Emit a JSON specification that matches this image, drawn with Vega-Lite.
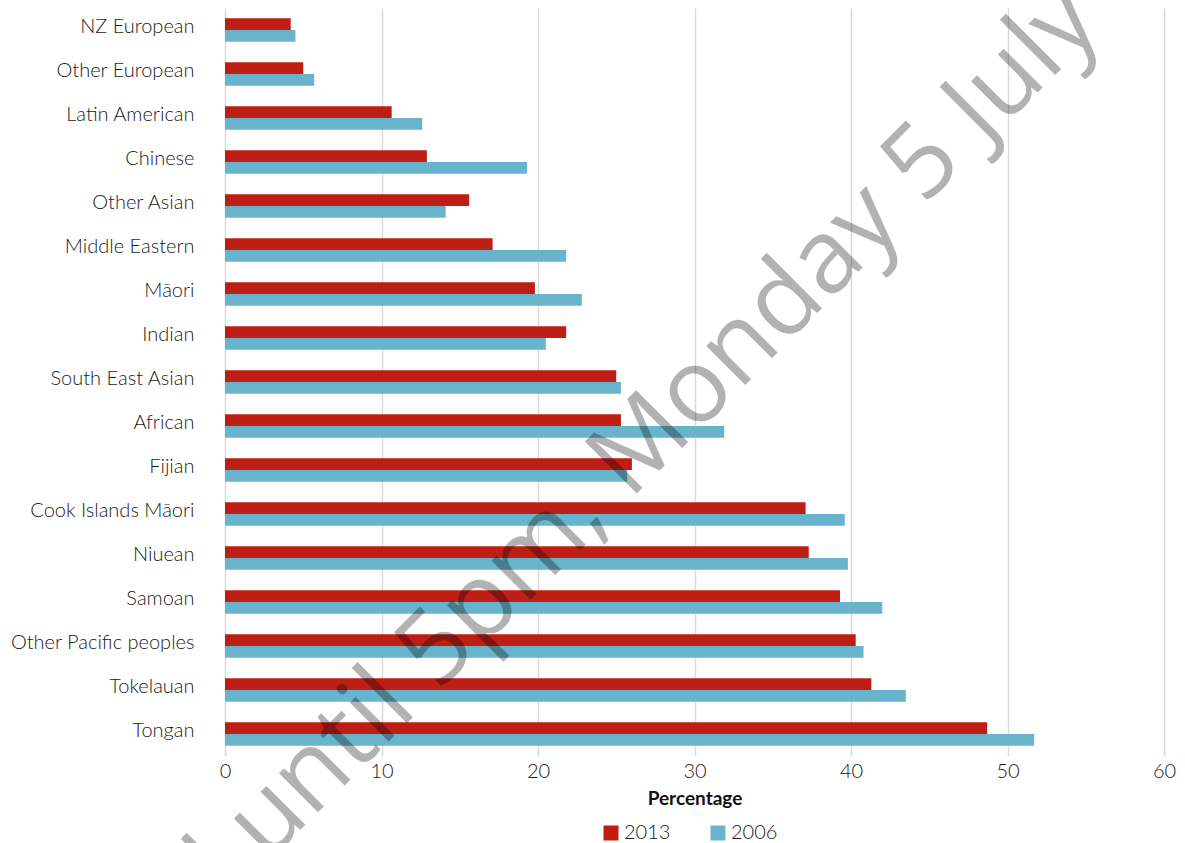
{
  "$schema": "https://vega.github.io/schema/vega-lite/v6.json",
  "width": 939,
  "height": 748,
  "autosize": {"type": "none"},
  "padding": {"left": 225, "top": 8, "right": 21, "bottom": 87},
  "background": "white",
  "config": {
    "view": {"stroke": null},
    "font": "Lato",
    "axis": {"labelFont": "Lato", "labelFontWeight": 300, "labelColor": "#1a1a1a", "labelFontSize": 20, "titleFont": "Lato"},
    "legend": {"labelFont": "Lato", "labelFontWeight": 300, "labelColor": "#1a1a1a", "labelFontSize": 20}
  },
  "data": {
    "values": [
      {"group": "NZ European", "year": "2013", "value": 4.2},
      {"group": "NZ European", "year": "2006", "value": 4.5},
      {"group": "Other European", "year": "2013", "value": 5.0},
      {"group": "Other European", "year": "2006", "value": 5.7},
      {"group": "Latin American", "year": "2013", "value": 10.65},
      {"group": "Latin American", "year": "2006", "value": 12.6},
      {"group": "Chinese", "year": "2013", "value": 12.9},
      {"group": "Chinese", "year": "2006", "value": 19.3},
      {"group": "Other Asian", "year": "2013", "value": 15.6},
      {"group": "Other Asian", "year": "2006", "value": 14.1},
      {"group": "Middle Eastern", "year": "2013", "value": 17.1},
      {"group": "Middle Eastern", "year": "2006", "value": 21.8},
      {"group": "Māori", "year": "2013", "value": 19.8},
      {"group": "Māori", "year": "2006", "value": 22.8},
      {"group": "Indian", "year": "2013", "value": 21.8},
      {"group": "Indian", "year": "2006", "value": 20.5},
      {"group": "South East Asian", "year": "2013", "value": 25.0},
      {"group": "South East Asian", "year": "2006", "value": 25.3},
      {"group": "African", "year": "2013", "value": 25.3},
      {"group": "African", "year": "2006", "value": 31.9},
      {"group": "Fijian", "year": "2013", "value": 26.0},
      {"group": "Fijian", "year": "2006", "value": 25.7},
      {"group": "Cook Islands Māori", "year": "2013", "value": 37.1},
      {"group": "Cook Islands Māori", "year": "2006", "value": 39.6},
      {"group": "Niuean", "year": "2013", "value": 37.3},
      {"group": "Niuean", "year": "2006", "value": 39.8},
      {"group": "Samoan", "year": "2013", "value": 39.3},
      {"group": "Samoan", "year": "2006", "value": 42.0},
      {"group": "Other Pacific peoples", "year": "2013", "value": 40.3},
      {"group": "Other Pacific peoples", "year": "2006", "value": 40.8},
      {"group": "Tokelauan", "year": "2013", "value": 41.3},
      {"group": "Tokelauan", "year": "2006", "value": 43.5},
      {"group": "Tongan", "year": "2013", "value": 48.7},
      {"group": "Tongan", "year": "2006", "value": 51.7}
    ]
  },
  "encoding": {
    "y": {
      "field": "group",
      "type": "nominal",
      "sort": null,
      "scale": {"paddingInner": 0.47, "paddingOuter": 0.235},
      "axis": {"title": null, "ticks": false, "tickSize": 0, "domain": false, "labelPadding": 31, "labelOffset": -3, "labelLimit": 400, "grid": false}
    }
  },
  "layer": [
    {
      "mark": {"type": "bar"},
      "encoding": {
        "x": {
          "field": "value",
          "type": "quantitative",
          "scale": {"domain": [0, 60], "nice": false},
          "axis": {
            "title": "Percentage",
            "titleFontSize": 19,
            "titleFontWeight": 700,
            "titleColor": "#111111",
            "titlePadding": 8,
            "values": [0, 10, 20, 30, 40, 50, 60],
            "labelFlush": false,
            "domain": false,
            "ticks": false,
            "tickSize": 0,
            "labelPadding": 5,
            "grid": true,
            "gridColor": "#d9d9d9",
            "gridWidth": 1.5
          }
        },
        "yOffset": {"field": "year", "type": "nominal", "sort": ["2013", "2006"]},
        "color": {
          "field": "year",
          "type": "nominal",
          "sort": ["2013", "2006"],
          "scale": {"domain": ["2013", "2006"], "range": ["#be1e14", "#67b4cc"]},
          "legend": {
            "title": null,
            "orient": "none",
            "direction": "horizontal",
            "legendX": 376,
            "legendY": 815,
            "symbolType": "square",
            "symbolSize": 225,
            "symbolStrokeWidth": 0,
            "symbolOpacity": 1,
            "labelOffset": 3,
            "columnPadding": 37
          }
        }
      }
    },
    {
      "data": {"values": [{"wm": "Monday 5 July"}]},
      "mark": {"type": "text", "font": "Open Sans", "fontSize": 103, "angle": -45, "align": "left", "baseline": "alphabetic", "dx": 19},
      "encoding": {
        "x": {"datum": 25},
        "y": {"datum": "Cook Islands Māori"},
        "text": {"field": "wm"},
        "fill": {"value": "#000000"},
        "fillOpacity": {"value": 0.3}
      }
    },
    {
      "data": {"values": [{"wm": "Embargoed until 5pm,"}]},
      "mark": {"type": "text", "font": "Open Sans", "fontSize": 103, "angle": -45, "align": "right", "baseline": "alphabetic", "dx": -8},
      "encoding": {
        "x": {"datum": 25},
        "y": {"datum": "Cook Islands Māori"},
        "text": {"field": "wm"},
        "fill": {"value": "#000000"},
        "fillOpacity": {"value": 0.3}
      }
    }
  ]
}
